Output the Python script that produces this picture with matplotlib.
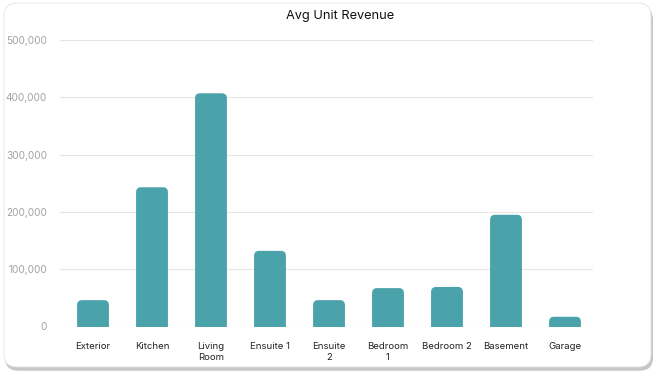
import matplotlib
matplotlib.use("Agg")
import matplotlib.pyplot as plt
from matplotlib.patches import FancyBboxPatch

# chart data
categories = ["Exterior", "Kitchen", "Living\nRoom", "Ensuite 1", "Ensuite\n2",
              "Bedroom\n1", "Bedroom 2", "Basement", "Garage"]
revenue = [46000, 243000, 407000, 132000, 46000, 67000, 69000, 195000, 17000]
y_ticks = [0, 100000, 200000, 300000, 400000, 500000]
y_tick_labels = ["0", "100,000", "200,000", "300,000", "400,000", "500,000"]

BAR_COLOR = "#4aa3aa"
W, H = 658, 377

plt.rcParams["font.family"] = ["Inter", "DejaVu Sans"]

fig = plt.figure(figsize=(W / 100, H / 100), dpi=100)
fig.patch.set_facecolor("white")

# card shadow + card
for i, a in enumerate([0.05, 0.05, 0.06, 0.08]):
    off = 4 - i
    sh = FancyBboxPatch((5 / W, (H - 370 - off * 0.3) / H), 648 / W, 364 / H,
                        boxstyle="round,pad=0,rounding_size=0.02",
                        mutation_aspect=W / H,
                        transform=fig.transFigure, facecolor="black",
                        edgecolor="none", alpha=a, zorder=0)
    fig.patches.append(sh)
card = FancyBboxPatch((4 / W, (H - 367) / H), 647 / W, 364 / H,
                      boxstyle="round,pad=0,rounding_size=0.02",
                      mutation_aspect=W / H,
                      transform=fig.transFigure, facecolor="white",
                      edgecolor="#e4e4e4", linewidth=0.6, zorder=1)
fig.patches.append(card)

ax = fig.add_axes([60 / W, 1 - 326.5 / H, 533 / W, 286.5 / H])
ax.set_facecolor("none")
ax.set_zorder(2)

x = list(range(len(categories)))
bars = ax.bar(x, revenue, width=0.54, color=BAR_COLOR, zorder=3)

# bars sit a bit right of the grid centre in the reference
px_x = 59.0                           # pixels per x unit
ax.set_xlim(-33 / px_x, len(categories) - 1 + 28 / px_x)
ax.set_ylim(0, 500000)

# swap square bars for bars with rounded tops
px_y = 286.5 / 500000                 # pixels per y unit
r_px = 5
for b in bars:
    bx, by = b.get_x(), b.get_y()
    bw, bh = b.get_width(), b.get_height()
    b.set_visible(False)
    r = r_px / px_x
    extra = 10 / px_y
    p = FancyBboxPatch((bx, by - extra), bw, bh + extra,
                       boxstyle=f"round,pad=0,rounding_size={r}",
                       mutation_aspect=px_x / px_y,
                       facecolor=BAR_COLOR, edgecolor="none", zorder=3)
    ax.add_patch(p)

ax.set_yticks(y_ticks)
ax.set_yticklabels(y_tick_labels)
ax.set_xticks(x)
ax.set_xticklabels(categories, linespacing=1.3)
ax.tick_params(axis="y", length=0, pad=9.4, labelsize=7.3, labelcolor="#a3a3a3")
ax.tick_params(axis="x", length=0, pad=11, labelsize=6.9, labelcolor="#222222")
ax.grid(axis="y", color="#e6e6e6", linewidth=0.8, zorder=0)
for s in ax.spines.values():
    s.set_visible(False)

fig.text(340 / W, 1 - 16 / H, "Avg Unit Revenue", ha="center", va="center",
         fontsize=9.2, color="#111111", zorder=5)

fig.savefig("out.png", dpi=100)
